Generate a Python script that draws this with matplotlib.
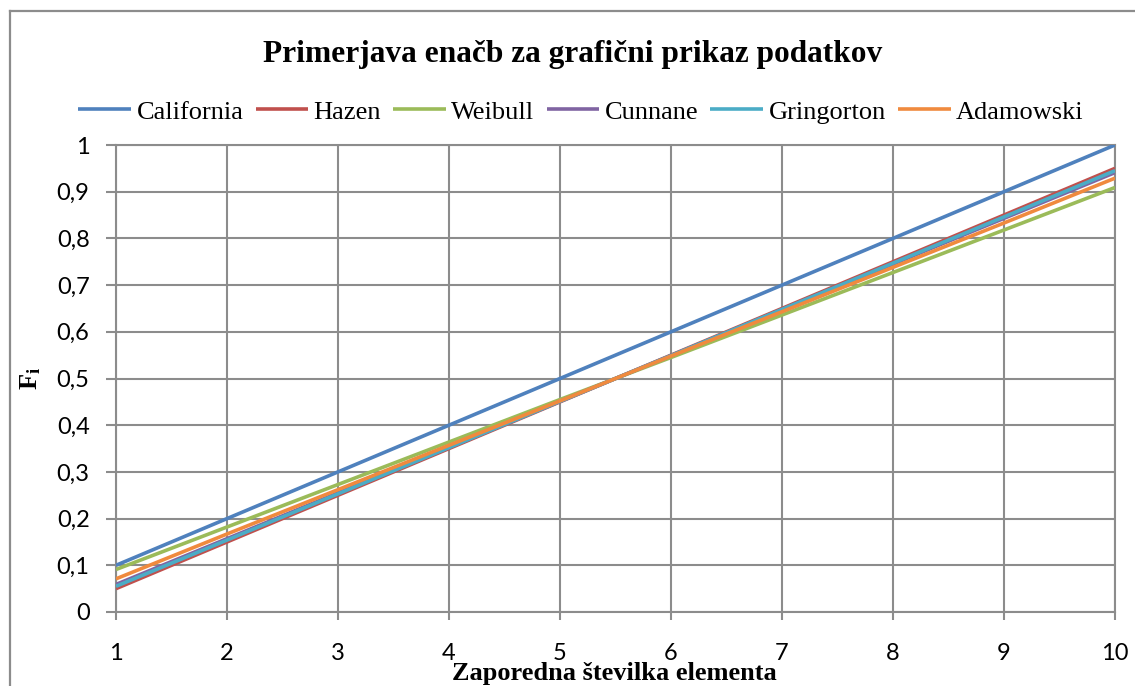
import matplotlib
matplotlib.use("Agg")
import matplotlib.pyplot as plt
from matplotlib.lines import Line2D

# ---- data ----
elements = [1, 2, 3, 4, 5, 6, 7, 8, 9, 10]
california = [0.100, 0.200, 0.300, 0.400, 0.500, 0.600, 0.700, 0.800, 0.900, 1.000]
hazen      = [0.050, 0.150, 0.250, 0.350, 0.450, 0.550, 0.650, 0.750, 0.850, 0.950]
weibull    = [0.091, 0.182, 0.273, 0.364, 0.455, 0.545, 0.636, 0.727, 0.818, 0.909]
cunnane    = [0.059, 0.157, 0.255, 0.353, 0.451, 0.549, 0.647, 0.745, 0.843, 0.941]
gringorton = [0.055, 0.154, 0.253, 0.352, 0.451, 0.549, 0.648, 0.747, 0.846, 0.945]
adamowski  = [0.071, 0.167, 0.262, 0.357, 0.452, 0.548, 0.643, 0.738, 0.833, 0.929]

series_names = ["California", "Hazen", "Weibull", "Cunnane", "Gringorton", "Adamowski"]
series_values = [california, hazen, weibull, cunnane, gringorton, adamowski]
colors = ["#4F81BD", "#C0504D", "#9BBB59", "#8064A2", "#4BACC6", "#F08A3E"]

y_ticks = [0.0, 0.1, 0.2, 0.3, 0.4, 0.5, 0.6, 0.7, 0.8, 0.9, 1.0]
y_tick_labels = ["0", "0,1", "0,2", "0,3", "0,4", "0,5", "0,6", "0,7", "0,8", "0,9", "1"]

title = "Primerjava enačb za grafični prikaz podatkov"
x_label = "Zaporedna številka elementa"

# ---- figure ----
W, H = 1135, 686
fig = plt.figure(figsize=(W / 100, H / 100), dpi=100)
plt.rcParams['mathtext.fontset'] = 'custom'
plt.rcParams['mathtext.bf'] = 'Liberation Serif:bold'
plt.rcParams['mathtext.rm'] = 'Liberation Serif'

def fx(px):
    return px / W

def fy(py):
    return 1 - py / H

ax = fig.add_axes([fx(116), fy(612), fx(1115) - fx(116), fy(145) - fy(612)])

grid_col = "#8C8C8C"
for name, vals, col in zip(series_names, series_values, colors):
    ax.plot(elements, vals, color=col, lw=2.6, label=name, solid_capstyle='butt', zorder=3)

ax.set_xlim(elements[0], elements[-1])
ax.set_ylim(0, 1)
ax.set_xticks(elements)
ax.set_xticklabels([str(e) for e in elements])
ax.set_yticks(y_ticks)
ax.set_yticklabels(y_tick_labels)
ax.grid(True, color=grid_col, lw=1.5, zorder=1)
for s in ax.spines.values():
    s.set_color(grid_col)
    s.set_linewidth(1.5)

ax.tick_params(axis='x', length=6, width=1.5, color=grid_col, pad=16,
               labelsize=17)
ax.tick_params(axis='y', length=7, width=1.5, color=grid_col, pad=12,
               labelsize=17)
for lab in ax.get_xticklabels() + ax.get_yticklabels():
    lab.set_fontfamily("Lato")

# title
fig.text(fx(573), fy(62), title, ha='center', va='baseline',
         fontfamily='Liberation Serif', fontweight='bold', fontsize=22.6)

# x label
fig.text(fx(614), fy(680), x_label, ha='center', va='baseline',
         fontfamily='Liberation Serif', fontweight='bold', fontsize=19)

# y label
fig.text(fx(30), fy(378), r'$\mathbf{F_i}$', ha='center', va='center',
         rotation=90, fontsize=19)

# legend
handles, labels = ax.get_legend_handles_labels()
leg = fig.legend(handles, labels, loc='center', bbox_to_anchor=(fx(581), fy(112)),
                 ncol=6, frameon=False, handlelength=2.0, handletextpad=0.2,
                 columnspacing=0.46, borderaxespad=0,
                 prop={'family': 'Liberation Serif', 'size': 19})

# chart border (left and top visible)
fig.add_artist(Line2D([fx(10), fx(10)], [fy(11), -0.1], color="#8C8C8C", lw=1.6,
                      transform=fig.transFigure))
fig.add_artist(Line2D([fx(10), 1.1], [fy(11), fy(11)], color="#8C8C8C", lw=1.6,
                      transform=fig.transFigure))

fig.savefig("out.png", dpi=100)
